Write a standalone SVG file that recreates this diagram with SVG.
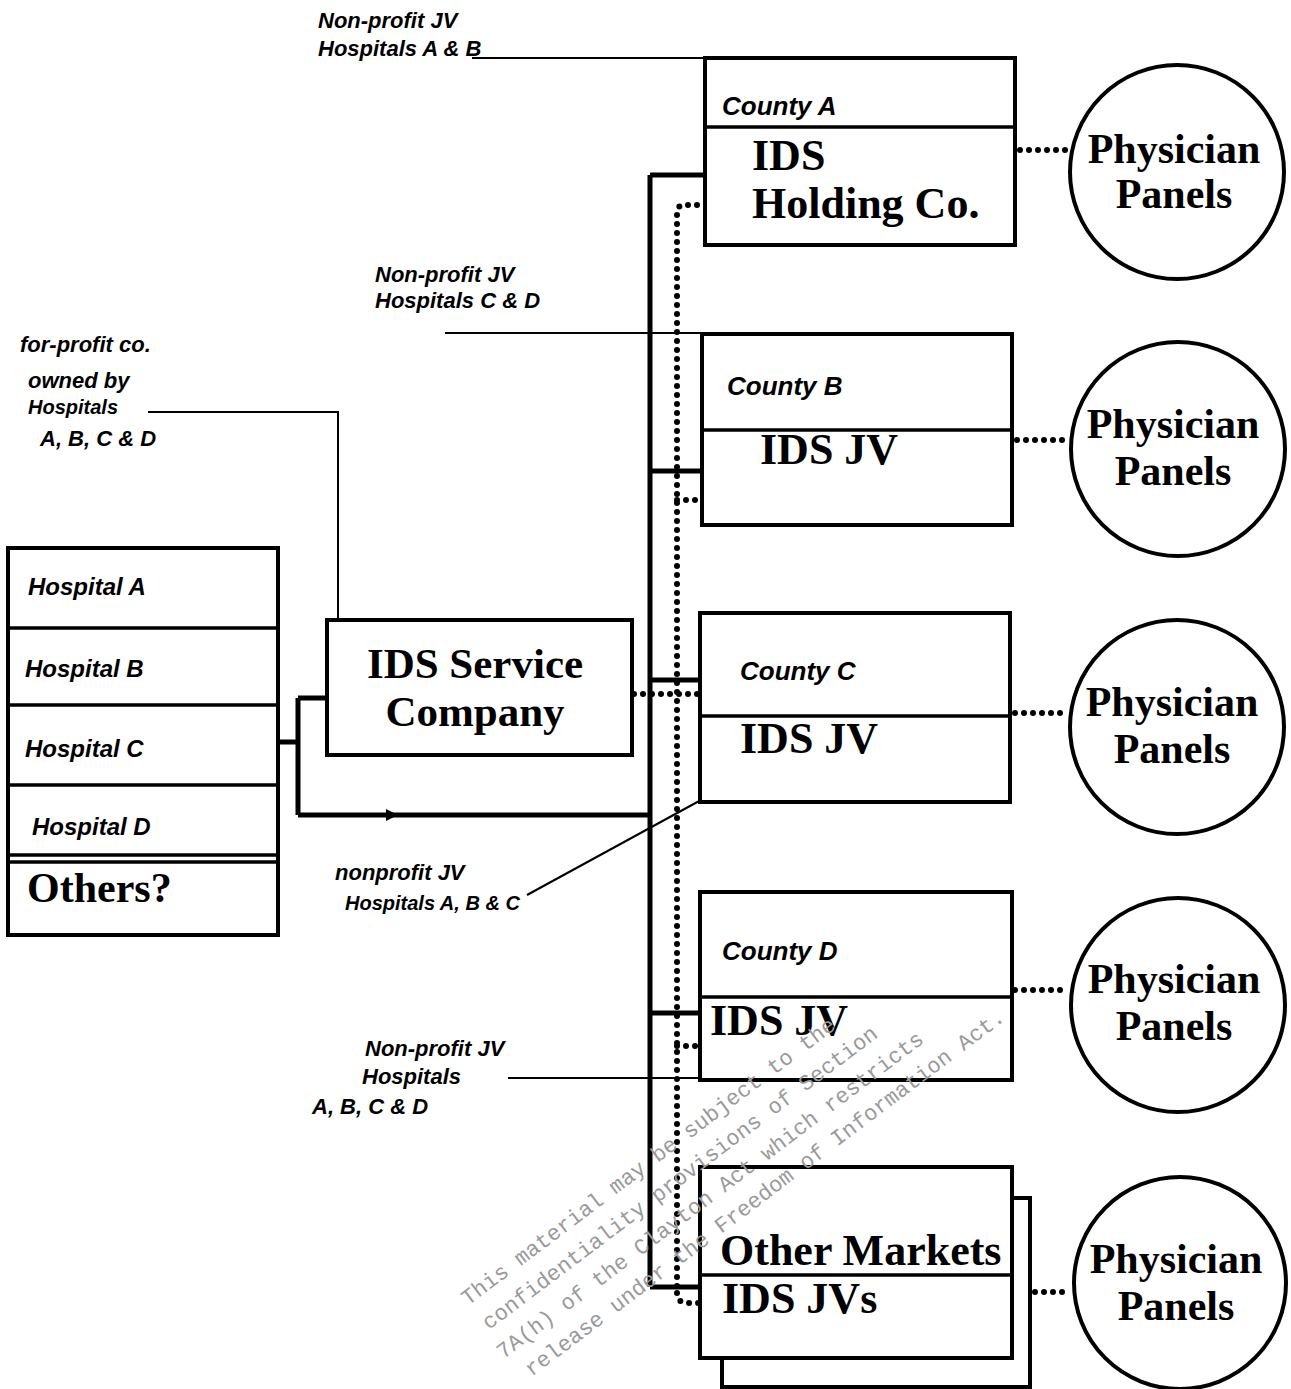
<svg xmlns="http://www.w3.org/2000/svg" width="1291" height="1389" viewBox="0 0 1291 1389">
<style>
.box{fill:#fff;stroke:#000;stroke-width:4}
.div{stroke:#000;stroke-width:3.5;fill:none}
.circ{fill:#fff;stroke:#000;stroke-width:4}
.big{font-family:"Liberation Serif","Times New Roman",serif;font-weight:bold;fill:#000}
.hand{font-family:"Liberation Sans",Arial,sans-serif;font-style:italic;font-weight:bold;fill:#000}
.solid{stroke:#000;stroke-width:5;fill:none;stroke-linejoin:miter}
.thin{stroke:#000;stroke-width:2;fill:none}
.dots{stroke:#000;stroke-width:6;fill:none;stroke-linecap:round;stroke-dasharray:0 9}
.wm{font-family:"Liberation Mono","Courier New",monospace;font-size:22px;fill:#9a9a9a}
</style>
<rect x="0" y="0" width="1291" height="1389" fill="#fff"/>

<g id="connectors">
  <path class="solid" d="M278 742 H298 M298 698 V815 M298 698 H328 M298 815 H650"/>
  <path d="M386 809 L398 815 L386 821 Z" fill="#000"/>
  <path class="solid" d="M650 175 V1287"/>
  <path class="solid" d="M650 175 H706"/>
  <path class="solid" d="M650 471 H703"/>
  <path class="solid" d="M650 680 H701"/>
  <path class="solid" d="M650 1013 H701"/>
  <path class="solid" d="M650 1287 H701"/>
  <path class="dots" d="M697 205 H684 Q677 205 677 214 V1290"/>
  <path class="dots" d="M677 500 H697"/>
  <path class="dots" d="M634 694 H700"/>
  <path class="dots" d="M677 1046 H697"/>
  <path class="dots" d="M677 1293 Q677 1303 688 1303 H700"/>
  <path class="dots" d="M1020 150 H1068"/>
  <path class="dots" d="M1017 440 H1068"/>
  <path class="dots" d="M1015 713 H1068"/>
  <path class="dots" d="M1015 990 H1068"/>
  <path class="dots" d="M1035 1292 H1070"/>
  <path class="thin" d="M472 58 H706"/>
  <path class="thin" d="M445 333 H703"/>
  <path class="thin" d="M148 412 H338 V620"/>
  <path class="thin" d="M527 895 L701 800"/>
  <path class="thin" d="M508 1078 H1012"/>
</g>

<g id="hospitals">
  <rect class="box" x="8" y="548" width="270" height="387"/>
  <path class="div" d="M8 628 H278 M8 705 H278 M8 785 H278 M8 855 H278 M8 862 H278"/>
  <text class="hand" x="28" y="595" font-size="24">Hospital A</text>
  <text class="hand" x="25" y="677" font-size="24">Hospital B</text>
  <text class="hand" x="25" y="757" font-size="24">Hospital C</text>
  <text class="hand" x="32" y="835" font-size="24">Hospital D</text>
  <text class="big" x="27" y="902" font-size="42">Others?</text>
</g>

<g id="service-company">
  <rect class="box" x="327" y="620" width="305" height="135"/>
  <text class="big" x="475" y="678" font-size="43" text-anchor="middle">IDS Service</text>
  <text class="big" x="475" y="726" font-size="43" text-anchor="middle">Company</text>
</g>

<g id="county-a">
  <rect class="box" x="705" y="58" width="310" height="187"/>
  <path class="div" d="M705 127 H1015"/>
  <text class="hand" x="722" y="115" font-size="26">County  A</text>
  <text class="big" x="752" y="170" font-size="44">IDS</text>
  <text class="big" x="752" y="218" font-size="44">Holding Co.</text>
</g>

<g id="county-b">
  <rect class="box" x="702" y="334" width="310" height="191"/>
  <path class="div" d="M702 430 H1012"/>
  <text class="hand" x="727" y="395" font-size="26">County  B</text>
  <text class="big" x="760" y="464" font-size="44">IDS JV</text>
</g>

<g id="county-c">
  <rect class="box" x="700" y="613" width="310" height="189"/>
  <path class="div" d="M700 716 H1010"/>
  <text class="hand" x="740" y="680" font-size="26">County  C</text>
  <text class="big" x="740" y="753" font-size="44">IDS JV</text>
</g>

<g id="county-d">
  <rect class="box" x="700" y="892" width="312" height="188"/>
  <path class="div" d="M700 997 H1012"/>
  <text class="hand" x="722" y="960" font-size="26">County D</text>
  <text class="big" x="710" y="1035" font-size="44">IDS JV</text>
</g>

<g id="other-markets">
  <rect class="box" x="722" y="1198" width="308" height="189"/>
  <rect class="box" x="700" y="1167" width="312" height="191"/>
  <path class="div" d="M700 1275 H1012"/>
  <text class="big" x="720" y="1265" font-size="44">Other Markets</text>
  <text class="big" x="722" y="1313" font-size="44">IDS JVs</text>
</g>

<g id="panels-1">
  <circle class="circ" cx="1177" cy="172" r="107"/>
  <text class="big" x="1174" y="163" font-size="42" text-anchor="middle">Physician</text>
  <text class="big" x="1174" y="208" font-size="42" text-anchor="middle">Panels</text>
</g>
<g id="panels-2">
  <circle class="circ" cx="1178" cy="449" r="107"/>
  <text class="big" x="1173" y="438" font-size="42" text-anchor="middle">Physician</text>
  <text class="big" x="1173" y="485" font-size="42" text-anchor="middle">Panels</text>
</g>
<g id="panels-3">
  <circle class="circ" cx="1177" cy="727" r="107"/>
  <text class="big" x="1172" y="716" font-size="42" text-anchor="middle">Physician</text>
  <text class="big" x="1172" y="763" font-size="42" text-anchor="middle">Panels</text>
</g>
<g id="panels-4">
  <circle class="circ" cx="1178" cy="1005" r="107"/>
  <text class="big" x="1174" y="993" font-size="42" text-anchor="middle">Physician</text>
  <text class="big" x="1174" y="1040" font-size="42" text-anchor="middle">Panels</text>
</g>
<g id="panels-5">
  <circle class="circ" cx="1180" cy="1283" r="106"/>
  <text class="big" x="1176" y="1273" font-size="42" text-anchor="middle">Physician</text>
  <text class="big" x="1176" y="1320" font-size="42" text-anchor="middle">Panels</text>
</g>

<g id="annotations">
  <text class="hand" x="318" y="28" font-size="22">Non-profit JV</text>
  <text class="hand" x="318" y="56" font-size="22">Hospitals A &amp; B</text>
  <text class="hand" x="375" y="282" font-size="22">Non-profit JV</text>
  <text class="hand" x="375" y="308" font-size="22">Hospitals C &amp; D</text>
  <text class="hand" x="20" y="352" font-size="22">for-profit co.</text>
  <text class="hand" x="28" y="388" font-size="22">owned by</text>
  <text class="hand" x="28" y="414" font-size="20">Hospitals</text>
  <text class="hand" x="40" y="446" font-size="22">A, B, C &amp; D</text>
  <text class="hand" x="335" y="880" font-size="22">nonprofit JV</text>
  <text class="hand" x="345" y="910" font-size="20">Hospitals A, B &amp; C</text>
  <text class="hand" x="365" y="1056" font-size="22">Non-profit JV</text>
  <text class="hand" x="362" y="1084" font-size="22">Hospitals</text>
  <text class="hand" x="312" y="1114" font-size="22">A, B, C &amp; D</text>
</g>

<g id="watermark" transform="translate(468 1306) rotate(-37)">
  <text class="wm" x="0" y="0">This material may be subject to the</text>
  <text class="wm" x="2" y="32">confidentiality provisions of Section</text>
  <text class="wm" x="-4" y="64">7A(h) of the Clayton Act which restricts</text>
  <text class="wm" x="8" y="95">release under the Freedom of Information Act.</text>
</g>
</svg>
